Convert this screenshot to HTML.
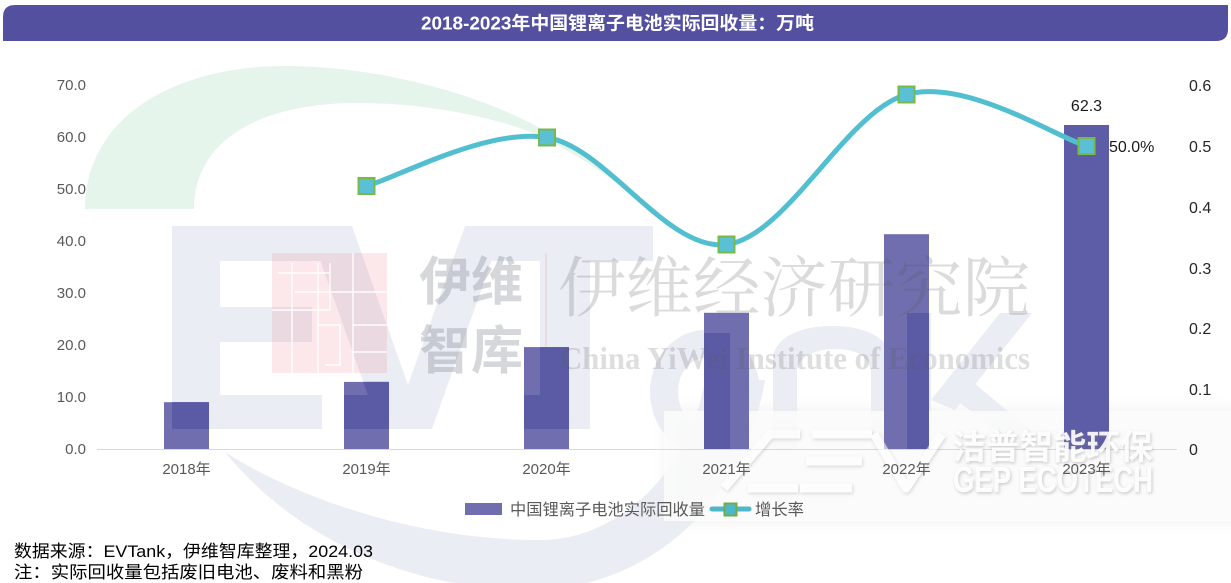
<!DOCTYPE html>
<html><head><meta charset="utf-8"><style>
html,body{margin:0;padding:0;background:#fff;}
svg{display:block;}
</style></head><body>
<svg width="1231" height="583" viewBox="0 0 1231 583" xmlns="http://www.w3.org/2000/svg" style="font-family:'Liberation Sans','Noto Sans CJK SC',sans-serif;">
<defs>
  <clipPath id="bc">
    <rect x="164" y="402.2" width="45" height="46.8"/>
    <rect x="344" y="381.9" width="45" height="67.1"/>
    <rect x="524" y="347.1" width="45" height="101.9"/>
    <rect x="704" y="312.8" width="45" height="136.2"/>
    <rect x="884" y="234.2" width="45" height="214.8"/>
    <rect x="1064" y="125" width="45" height="324"/>
  </clipPath>
  <filter id="sh" x="-20%" y="-20%" width="140%" height="140%">
    <feDropShadow dx="1" dy="1.5" stdDeviation="1.5" flood-color="#8a8a8a" flood-opacity="0.5"/>
  </filter>
  <filter id="bl" x="-10%" y="-30%" width="120%" height="160%">
    <feGaussianBlur stdDeviation="6"/>
  </filter>
</defs>

<rect width="1231" height="583" fill="#fff"/>

<!-- title bar -->
<path d="M15,5 L1228,5 L1228,29 Q1228,41 1216,41 L3,41 L3,17 Q3,5 15,5 Z" fill="#5450a0"/>
<text x="617.5" y="29.5" text-anchor="middle" font-size="18" font-weight="bold" fill="#fff" textLength="393" lengthAdjust="spacingAndGlyphs">2018-2023年中国锂离子电池实际回收量：万吨</text>

<!-- green crescent watermark -->
<path d="M85,209 C85,120 170,66 286,66 C370,66 470,90 538,127 C580,150 620,180 660,213 C620,185 580,155 538,135 C490,115 420,103 358,103 C260,103 194,140 194,209 Z" fill="#e5f5eb"/>

<!-- EVTank light watermark -->
<g fill="#eaedf4">
  <rect x="172" y="226" width="48" height="203"/>
  <rect x="172" y="226" width="180" height="35"/>
  <rect x="172" y="307" width="140" height="35"/>
  <rect x="172" y="395" width="150" height="34"/>
  <polygon points="308,226 352,226 408,385 465,226 504,226 432,429 380,429"/>
  <rect x="465" y="226" width="188" height="35"/>
  <rect x="540" y="226" width="50" height="203"/>
  <path fill-rule="evenodd" d="M650,392 a55,62 0 1,0 110,0 a55,62 0 1,0 -110,0 Z M678,392 a27,34 0 1,0 54,0 a27,34 0 1,0 -54,0 Z"/>
  <path d="M773,449 L773,360 C773,338 800,326 832,326 C872,326 895,342 895,372 L895,449 L871,449 L871,374 C871,357 856,349 836,349 C812,349 797,359 797,372 L797,449 Z"/>
  <rect x="907" y="313" width="24" height="136"/>
  <polygon points="931,400 1000,313 1032,313 955,410"/>
  <polygon points="945,392 966,376 1052,449 1022,449"/>
  <path d="M225,452 C300,545 420,590 530,590 C650,590 745,500 765,380 L705,380 C690,470 620,540 540,540 C420,540 300,500 225,452 Z"/>
</g>

<!-- pink logo square -->
<rect x="272" y="253" width="115" height="120" fill="rgb(240,140,150)" fill-opacity="0.2"/>
<g stroke="#fff" stroke-width="1.5" fill="none" opacity="0.9">
  <line x1="292" y1="263" x2="292" y2="373"/>
  <line x1="318" y1="263" x2="318" y2="373"/>
  <line x1="330" y1="263" x2="330" y2="310"/>
  <line x1="353" y1="253" x2="353" y2="373"/>
  <line x1="278" y1="273" x2="330" y2="273"/>
  <line x1="295" y1="292" x2="387" y2="292"/>
  <line x1="272" y1="310" x2="330" y2="310"/>
  <line x1="353" y1="325" x2="387" y2="325"/>
  <line x1="353" y1="352" x2="387" y2="352"/>
  <polyline points="318,325 340,325 340,365 325,365"/>
</g>
<line x1="546" y1="253" x2="546" y2="372" stroke="#f0c8cc" stroke-width="1"/>

<!-- GEP background wash -->
<rect x="664" y="408" width="580" height="116" fill="#ececec" filter="url(#bl)" opacity="0.6"/>
<rect x="664" y="411" width="580" height="110" fill="#fcfcfc" opacity="0.8"/>

<!-- bars -->
<g fill="#706eaf">
  <rect x="164" y="402.2" width="45" height="46.8"/>
  <rect x="344" y="381.9" width="45" height="67.1"/>
  <rect x="524" y="347.1" width="45" height="101.9"/>
  <rect x="704" y="312.8" width="45" height="136.2"/>
  <rect x="884" y="234.2" width="45" height="214.8"/>
</g>
<rect x="1064" y="125" width="45" height="324" fill="#5d5ca6"/>
<!-- darker overlap of watermark on bars -->
<g clip-path="url(#bc)" fill="#5b5aa5">
  <rect x="172" y="226" width="48" height="203"/>
  <rect x="172" y="395" width="430" height="34"/>
  <polygon points="308,226 352,226 408,385 465,226 504,226 432,429 380,429"/>
  <rect x="540" y="226" width="50" height="203"/>
  <rect x="704" y="333" width="26" height="116"/>
  <rect x="907" y="313" width="24" height="136"/>
</g>

<!-- watermark text over bars -->
<g style="font-family:'Liberation Sans','Noto Sans CJK SC',sans-serif;font-weight:bold;" fill="rgb(120,124,134)" fill-opacity="0.3" font-size="52">
  <text x="419" y="300" textLength="104" lengthAdjust="spacingAndGlyphs">伊维</text>
  <text x="419" y="369" textLength="104" lengthAdjust="spacingAndGlyphs">智库</text>
</g>
<text x="558" y="311" style="font-family:'Liberation Serif','Noto Serif CJK SC',serif;" font-size="66" fill="rgb(90,90,90)" fill-opacity="0.22" textLength="472" lengthAdjust="spacingAndGlyphs">伊维经济研究院</text>
<text x="560" y="369" style="font-family:'Liberation Serif',serif;font-weight:bold;" font-size="32" fill="rgb(90,90,90)" fill-opacity="0.2" textLength="470" lengthAdjust="spacingAndGlyphs">China YiWei Institute of Economics</text>

<!-- axis -->
<line x1="97" y1="449.5" x2="1177" y2="449.5" stroke="#d9d9d9" stroke-width="1"/>

<!-- AEV logo + GEP -->
<g fill="none" stroke="#fff" stroke-width="9" opacity="0.6" filter="url(#sh)" stroke-linejoin="round">
  <path d="M724,488 L770,434 L800,434"/>
  <path d="M748,488 L798,488"/>
  <path d="M812,434 L872,434 M806,461 L862,461 M800,488 L852,488"/>
  <path d="M874,434 L906,488 L942,434"/>
</g>
<g filter="url(#sh)" fill="#fff" font-weight="bold">
  <text x="953" y="459" font-size="34" textLength="200" lengthAdjust="spacingAndGlyphs" fill-opacity="0.9">洁普智能环保</text>
  <text x="953" y="492" font-size="36" textLength="200" lengthAdjust="spacingAndGlyphs" fill-opacity="0.9">GEP ECOTECH</text>
</g>

<!-- left axis labels -->
<g font-size="15" fill="#595959" text-anchor="end">
  <text x="86" y="90">70.0</text>
  <text x="86" y="142">60.0</text>
  <text x="86" y="194">50.0</text>
  <text x="86" y="246">40.0</text>
  <text x="86" y="298">30.0</text>
  <text x="86" y="350">20.0</text>
  <text x="86" y="402">10.0</text>
  <text x="86" y="454">0.0</text>
</g>
<!-- right axis labels -->
<g font-size="16" fill="#262626">
  <text x="1189" y="91">0.6</text>
  <text x="1189" y="152">0.5</text>
  <text x="1189" y="213">0.4</text>
  <text x="1189" y="274">0.3</text>
  <text x="1189" y="334">0.2</text>
  <text x="1189" y="395">0.1</text>
  <text x="1189" y="455">0</text>
</g>
<!-- category labels -->
<g font-size="15" fill="#595959" text-anchor="middle">
  <text x="186.5" y="474">2018年</text>
  <text x="366.5" y="474">2019年</text>
  <text x="546.5" y="474">2020年</text>
  <text x="726.5" y="474">2021年</text>
  <text x="906.5" y="474">2022年</text>
  <text x="1086.5" y="474">2023年</text>
</g>

<!-- growth line -->
<path d="M366.5,186 C396.6,177.9 487,127.75 547,137.5 C607,147.25 666.6,251.67 726.5,244.5 C786.4,237.33 846.5,110.92 906.5,94.5 C966.5,78.08 1056.5,137.42 1086.5,146" fill="none" stroke="#52bfd0" stroke-width="5" stroke-linecap="round"/>
<g fill="#5ac0d6" stroke="#7ab848" stroke-width="2">
  <rect x="358.5" y="178" width="16" height="16"/>
  <rect x="539" y="129.5" width="16" height="16"/>
  <rect x="718.5" y="236.5" width="16" height="16"/>
  <rect x="898.5" y="86.5" width="16" height="16"/>
  <rect x="1078.5" y="138" width="16" height="16"/>
</g>

<!-- data labels -->
<text x="1086.5" y="111" font-size="16" fill="#1a1a1a" text-anchor="middle">62.3</text>
<text x="1109" y="152" font-size="16" fill="#1a1a1a">50.0%</text>

<!-- legend -->
<rect x="465" y="503" width="37" height="12" fill="#706eaf"/>
<text x="510" y="515" font-size="16" fill="#595959" textLength="195" lengthAdjust="spacingAndGlyphs">中国锂离子电池实际回收量</text>
<line x1="712" y1="509" x2="749" y2="509" stroke="#4fb7cc" stroke-width="5" stroke-linecap="round"/>
<rect x="724.5" y="503.5" width="12" height="12" fill="#4fb7cc" stroke="#70ad47" stroke-width="2"/>
<text x="755" y="515" font-size="16" fill="#595959" textLength="49" lengthAdjust="spacingAndGlyphs">增长率</text>

<!-- footer -->
<text x="14" y="557" font-size="17" fill="#000" textLength="359" lengthAdjust="spacingAndGlyphs">数据来源：EVTank，伊维智库整理，2024.03</text>
<text x="14" y="578" font-size="17" fill="#000" textLength="349" lengthAdjust="spacingAndGlyphs">注：实际回收量包括废旧电池、废料和黑粉</text>
</svg>
</body></html>
